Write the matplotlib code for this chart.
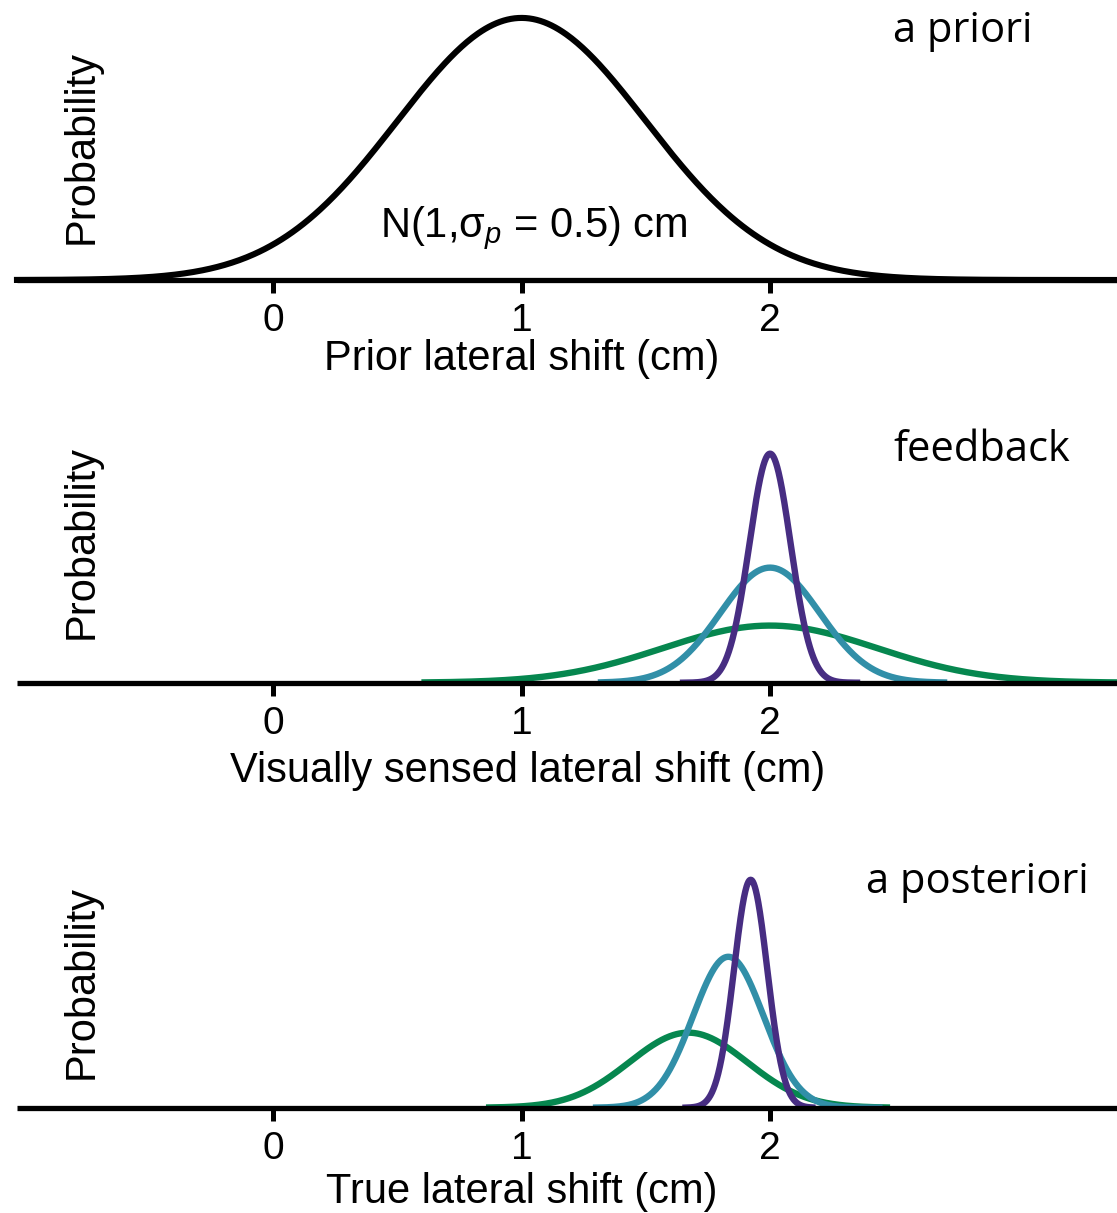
import numpy as np
import matplotlib
matplotlib.use("Agg")
import matplotlib.pyplot as plt

plt.rcParams['font.family'] = ['Liberation Sans', 'DejaVu Sans']
plt.rcParams['mathtext.fontset'] = 'custom'
plt.rcParams['mathtext.rm'] = 'Liberation Sans'
plt.rcParams['mathtext.it'] = 'Liberation Sans:italic'

# --- data ---
x_ticks = [0, 1, 2]
x_limits = (-1.03, 3.396)

prior_mean = 1.0
prior_sd = 0.5
prior_peak = 0.936

colors = ['#472d82', '#318fa8', '#06874f']  # narrow, medium, wide
lik_means = [2.0, 2.0, 2.0]
lik_sds = [0.083, 0.20, 0.43]
lik_peaks = [0.818, 0.411, 0.204]
lik_ranges = [(1.65, 2.35), (1.32, 2.70), (0.61, 3.40)]

post_means = [1.922, 1.832, 1.671]
post_sds = [0.067, 0.142, 0.237]
post_peaks = [0.814, 0.539, 0.268]
post_ranges = [(1.66, 2.17), (1.30, 2.44), (0.87, 2.47)]

xlabels = ['Prior lateral shift (cm)', 'Visually sensed lateral shift (cm)',
           'True lateral shift (cm)']
xlabel_pos = [1.0, 1.024, 1.0]
titles = ['a priori', 'feedback', 'a posteriori']


def bump(x, m, s, h):
    return h * np.exp(-0.5 * ((x - m) / s) ** 2)


W, H = 1117, 1213
fig = plt.figure(figsize=(W / 100, H / 100), dpi=100)

axis_y = [280, 682.7, 1107.7]   # pixel row of each baseline
ax_h = 280
ylab_center = [147, 542, 982]
xlab_off = [90, 99, 95]
title_xy = [(893, 42), (893, 461), (866, 893)]

axes = []
for i in range(3):
    ax = fig.add_axes([17 / W, 1 - axis_y[i] / H, 1100 / W, ax_h / H])
    ax.set_xlim(*x_limits)
    ax.set_ylim(0, 1)
    for sp in ['top', 'right', 'left']:
        ax.spines[sp].set_visible(False)
    ax.spines['bottom'].set_linewidth(3.8)
    ax.spines['bottom'].set_capstyle('butt')
    ax.set_yticks([])
    ax.set_xticks(x_ticks)
    ax.tick_params(axis='x', direction='out', length=9.5, width=3.6,
                   labelsize=28, pad=7)
    ax.set_ylabel('Probability', fontsize=30, va='center')
    ax.yaxis.set_label_coords((82 - 17) / 1100,
                              (axis_y[i] - ylab_center[i]) / ax_h)
    ax.text(xlabel_pos[i], -xlab_off[i] / ax_h, xlabels[i], fontsize=30,
            ha='center', va='baseline', transform=ax.get_xaxis_transform(),
            clip_on=False)
    fig.text(title_xy[i][0] / W, 1 - title_xy[i][1] / H, titles[i],
             fontsize=30, family='Open Sans', ha='left', va='baseline')
    axes.append(ax)

# prior
xs = np.linspace(x_limits[0], x_limits[1], 600)
axes[0].plot(xs, bump(xs, prior_mean, prior_sd, prior_peak),
             color='black', lw=4.4, clip_on=False)
axes[0].text(1.048, (280 - 237) / ax_h, 'N(1,σ$_{p}$ = 0.5) cm',
             fontsize=30, ha='center', va='baseline',
             transform=axes[0].get_xaxis_transform())

# likelihood (feedback) and posterior, wide first so narrow sits on top
for j in [2, 1, 0]:
    xs = np.linspace(lik_ranges[j][0], lik_ranges[j][1], 400)
    axes[1].plot(xs, bump(xs, lik_means[j], lik_sds[j], lik_peaks[j]),
                 color=colors[j], lw=4.6, clip_on=False)
    xs = np.linspace(post_ranges[j][0], post_ranges[j][1], 400)
    axes[2].plot(xs, bump(xs, post_means[j], post_sds[j], post_peaks[j]),
                 color=colors[j], lw=4.6, clip_on=False)

fig.savefig('out.png', dpi=100)
